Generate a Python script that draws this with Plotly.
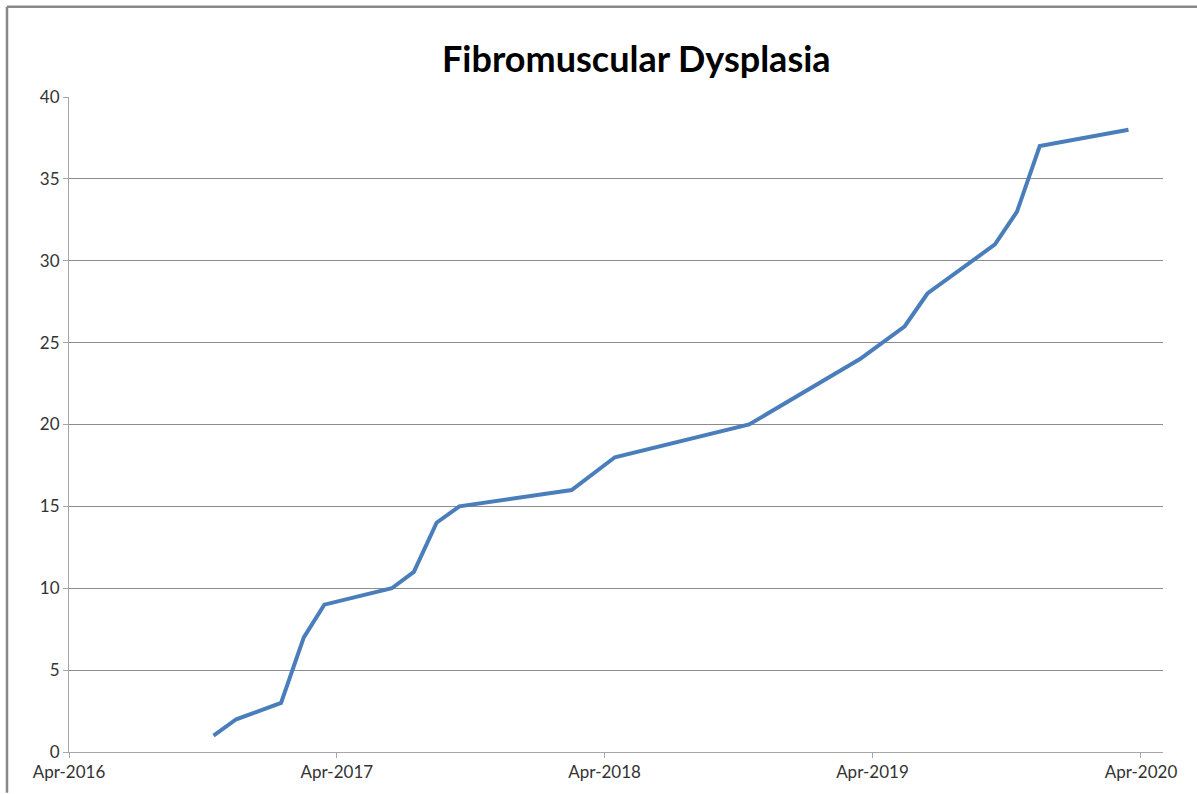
import plotly.graph_objects as go

dates = ["2016-10-15", "2016-11-15", "2017-01-15", "2017-02-15", "2017-03-15",
         "2017-06-15", "2017-07-15", "2017-08-15", "2017-09-15", "2018-02-15",
         "2018-04-15", "2018-10-15", "2019-03-15", "2019-05-15", "2019-06-15",
         "2019-09-15", "2019-10-15", "2019-11-15", "2020-03-15"]
counts = [1, 2, 3, 7, 9, 10, 11, 14, 15, 16, 18, 20, 24, 26, 28, 31, 33, 37, 38]

tick_dates = ["2016-04-01", "2017-04-01", "2018-04-01", "2019-04-01", "2020-04-01"]
tick_labels = ["Apr-2016", "Apr-2017", "Apr-2018", "Apr-2019", "Apr-2020"]
title_text = "Fibromuscular Dysplasia"

W, H = 1197, 794
L, R, T, B = 69, 34, 97, 36
pw, ph = W - L - R, H - T - B

def px(x):
    return (x - L) / pw

def py(y):
    return (H - B - y) / ph

fig = go.Figure()
fig.add_trace(go.Scatter(
    x=dates, y=counts, mode="lines",
    line=dict(color="#4a7ebb", width=4),
    showlegend=False,
))

tickfont = dict(family="Lato, Carlito, Calibri, sans-serif", size=17, color="#333333")

fig.update_layout(
    width=W, height=H,
    margin=dict(l=L, r=R, t=T, b=B),
    paper_bgcolor="white", plot_bgcolor="white",
    xaxis=dict(
        type="date", range=["2016-04-01", "2020-05-01"],
        tickmode="array", tickvals=tick_dates, ticktext=tick_labels,
        showgrid=False, zeroline=False,
        showline=True, linecolor="#a6a6a6", linewidth=1,
        ticks="outside", ticklen=5, tickcolor="#a6a6a6",
        tickfont=tickfont,
    ),
    yaxis=dict(
        range=[0, 40], tickvals=[0, 5, 10, 15, 20, 25, 30, 35, 40],
        showgrid=True, gridcolor="#8c8c8c", gridwidth=1,
        zeroline=False,
        showline=True, linecolor="#a6a6a6", linewidth=1,
        ticks="outside", ticklen=5, tickcolor="#a6a6a6",
        tickfont=tickfont,
    ),
    annotations=[dict(
        text="<b>" + title_text + "</b>", xref="paper", yref="paper",
        x=px(636), y=py(58), xanchor="center", yanchor="middle",
        showarrow=False,
        font=dict(family="Lato, Carlito, Calibri, sans-serif", size=36, color="black"),
    )],
    shapes=[
        dict(type="line", xref="paper", yref="paper",
             x0=px(7), x1=px(W + 5), y0=py(6), y1=py(6),
             line=dict(color="#888888", width=2.5)),
        dict(type="line", xref="paper", yref="paper",
             x0=px(7), x1=px(7), y0=py(6), y1=py(H + 5),
             line=dict(color="#888888", width=2.5)),
    ],
)

fig.write_html("out.html", config={"displayModeBar": False},
               post_script="document.body.style.margin='0';")
